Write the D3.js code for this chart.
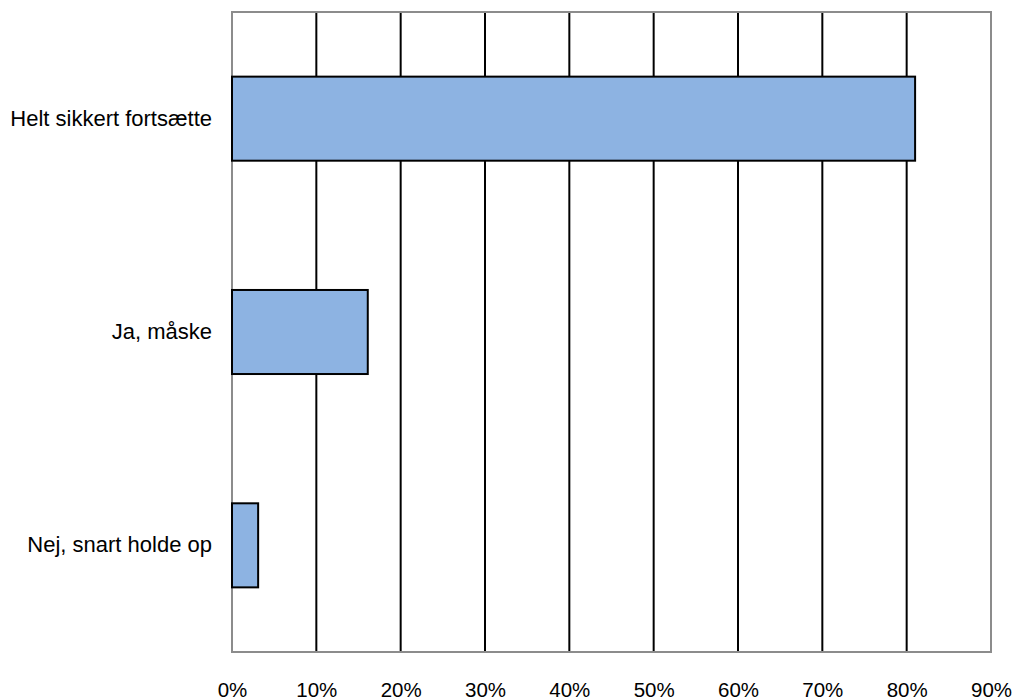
<!DOCTYPE html>
<html>
<head>
<meta charset="utf-8">
<script src="https://cdn.jsdelivr.net/npm/d3@7/dist/d3.min.js"></script>
<style>
  html, body { margin: 0; padding: 0; background: #fff; }
  svg { display: block; }
  text { font-family: "Liberation Sans", Arial, sans-serif; fill: #000; }
</style>
</head>
<body>
<svg id="chart" width="1016" height="700"></svg>
<script>
// Survey answers and their shares (percent)
const categories = ["Helt sikkert fortsætte", "Ja, måske", "Nej, snart holde op"];
const values = [81.0, 16.1, 3.1];
const tickValues = [0, 10, 20, 30, 40, 50, 60, 70, 80, 90];
const tickLabels = ["0%", "10%", "20%", "30%", "40%", "50%", "60%", "70%", "80%", "90%"];

const margin = { top: 12, right: 25, bottom: 48, left: 232 };
const width = 1016 - margin.left - margin.right;
const height = 700 - margin.top - margin.bottom;

const svg = d3.select("#chart");
const g = svg.append("g").attr("transform", `translate(${margin.left},${margin.top})`);

const x = d3.scaleLinear().domain([0, 90]).range([0, width]);
const y = d3.scaleBand().domain(categories).range([0, height]).paddingInner(0.606).paddingOuter(0.303);

// vertical gridlines
g.selectAll("line.grid")
  .data(tickValues.filter(t => t > 0 && t < 90))
  .join("line")
  .attr("class", "grid")
  .attr("x1", d => x(d)).attr("x2", d => x(d))
  .attr("y1", 0).attr("y2", height)
  .attr("stroke", "#000").attr("stroke-width", 2);

// plot frame
g.append("rect")
  .attr("x", 0).attr("y", 0).attr("width", width).attr("height", height)
  .attr("fill", "none").attr("stroke", "#8c8c8c").attr("stroke-width", 2);

// bars
g.selectAll("rect.bar")
  .data(categories.map((c, i) => ({ c, v: values[i] })))
  .join("rect")
  .attr("class", "bar")
  .attr("x", x(0))
  .attr("y", d => y(d.c))
  .attr("width", d => x(d.v) - x(0))
  .attr("height", y.bandwidth())
  .attr("fill", "#8db3e2")
  .attr("stroke", "#000").attr("stroke-width", 2);

// category labels
const yAxis = g.append("g")
  .call(d3.axisLeft(y).tickSize(0).tickPadding(20));
yAxis.select(".domain").remove();
yAxis.selectAll("text")
  .style("font-size", "22px")
  .style("font-family", "Liberation Sans, Arial, sans-serif");

// percent labels
const xAxis = g.append("g")
  .attr("transform", `translate(0,${height})`)
  .call(d3.axisBottom(x).tickValues(tickValues).tickFormat((d, i) => tickLabels[i]).tickSize(0).tickPadding(30));
xAxis.select(".domain").remove();
xAxis.selectAll("text")
  .style("font-size", "20.5px")
  .style("font-family", "Liberation Sans, Arial, sans-serif");
</script>
</body>
</html>
